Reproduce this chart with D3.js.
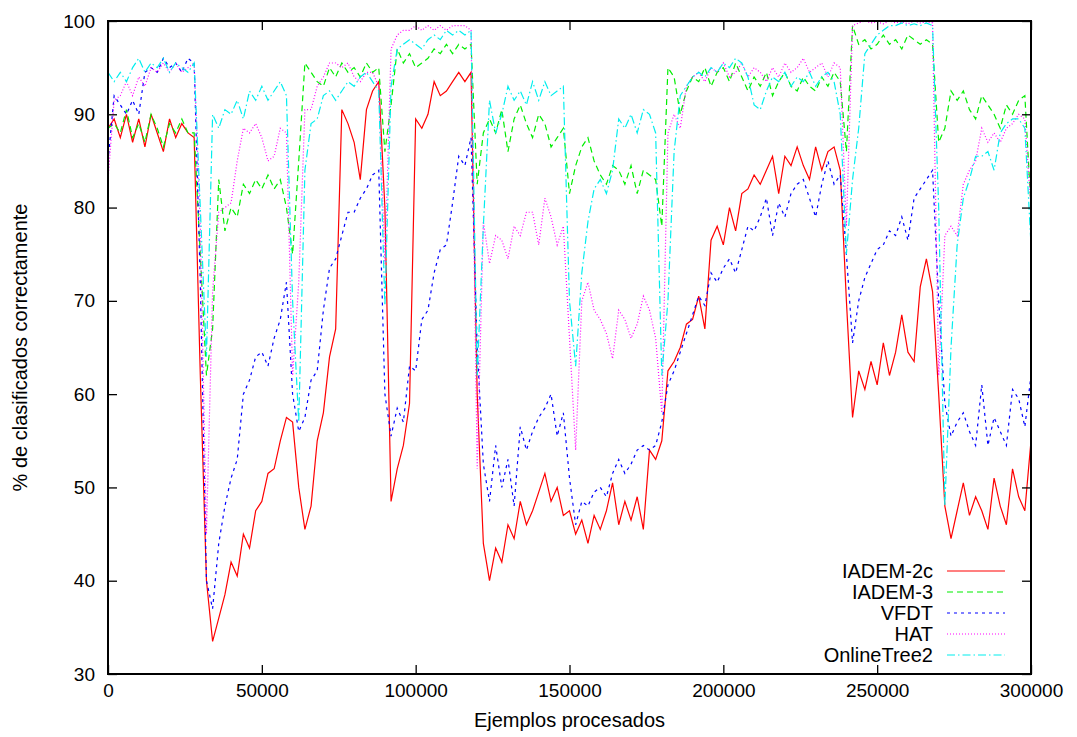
<!DOCTYPE html>
<html>
<head>
<meta charset="utf-8">
<script src="https://cdn.jsdelivr.net/npm/d3@7"></script>
<style>
  body { margin: 0; background: #fff; }
  svg text { font-family: "Liberation Sans", Arial, Helvetica, sans-serif; fill: #000; }
</style>
</head>
<body>
<svg id="chart" width="1077" height="737"></svg>
<script>
// one reading every 2000 examples, from 0 to 300000
const step = 2000;

const iadem2c = [88.5,89.5,87.5,90,87,89.5,86.5,90,88,86,89.5,87.5,89,88,87.5,62,40,33.5,36,38.5,
  42,40.5,45,43.5,47.5,48.5,51.5,52,55,57.5,57,50,45.5,48,55,58,64,67,90.5,89,
  87,83,90.5,92.5,93.5,80,48.5,52,54.5,59,89.5,88.5,90,93.5,92,92.5,93.5,94.5,93.5,94.5,
  60,44,40,43.5,42,46,44.5,48.5,46,47.5,49.5,51.5,48.5,50,47,47.5,45,46.5,44,47,
  45.5,47.5,50.5,46,48.5,46.5,49,45.5,54,53,55,62.5,63.5,65,67.5,68,70.5,67,76.5,78,
  76,80,77.5,81.5,82,83.5,82.5,84,85.5,81.5,85.5,84.5,86.5,84.5,83,86.5,84,86,86.5,84,
  70,57.5,62.5,60.5,63.5,61,65.5,62,64.5,68.5,64.5,63.5,71.5,74.5,71,60,48,44.5,47.5,50.5,
  47,49,47.5,45.5,51,48,46,52,49,47.5,55];

const iadem3 = [88.5,89,88,90.5,87.5,89,87,90,88.5,86.5,89,88,89.5,88,88,75,62,67,83,77.5,
  80,79,82.5,81.5,83,82,83.5,82,83,80,75,85,95.5,94.5,93.5,93,95,94,95.5,94.5,
  95,94,95.5,94.5,95,86,91,97,95.5,96.5,95,95.5,96,97,96.5,97.5,96.5,97.5,97,97.5,
  82.5,88,89.5,88,90.5,86,89.5,91,89,87.5,90,89,86.5,87.5,88.5,81.5,84.5,86.5,87.5,85,
  83.5,82.5,84.5,84,82.5,84.5,81.5,84,83.5,83,78,95,94,90,92.5,94,93.5,95,93,94.5,
  95,93.5,95.5,94,92.5,94,93,94.5,92,93.5,94.5,93,92.5,94,93,92.5,94,93,94.5,93.5,
  86,99.5,97.5,98,97,97.5,98.5,97.5,98,97,98.5,98,97.5,98,97.5,87,88.5,92.5,91.5,92.5,
  90.5,89.5,92,91,90,88.5,91,90,91.5,92,80];

const vfdt = [85,92,91,90,91.5,90,94.5,95,94.5,96,95,95.5,94.5,96,95.5,72,40,37,44,48,
  51,53,60,61.5,64,64.5,63,66,68,72,60,56,57.5,61.5,62.5,69,73.5,74.5,77,79.5,
  79.5,81,82,83.5,84,60,55.5,58.5,57,63,62.5,68,69,73,75.5,76,80.5,85.5,84.5,87.5,
  65,52.5,48.5,54.5,50,53,48,56.5,54,56,57.5,58.5,60,55.5,58,51,46,48.5,48,49.5,
  50,49,51.5,53,51.5,52.5,54,54.5,54,54.5,57,61,62.5,64.5,66.5,68.5,70.5,69.5,73,72,
  73.5,74.5,73,75.5,78,77.5,79,81,77,80.5,79,81.5,82.5,83,81,79,82.5,85,82.5,83.5,
  75,65.5,70,72.5,74,75.5,76,77.5,77,79,76.5,81,82,83,84,70,59,55.5,57,58,
  56,54.5,61,54.5,57.5,56,54.5,60.5,59.5,56.5,62];

const hat = [83,91.5,92,93.5,92,94,93,95,94.5,95.5,94.5,95.5,94.5,95,95.5,78,45,71,79.5,80,
  80.5,85,88.5,88,89,87.5,85,85.5,88.5,88,62,72,90.5,90.5,93,94,95.5,95.5,95,95.5,
  94,93.5,94.5,94.5,93,74,97,98.5,99,99,99.5,99,99.5,99,99.5,99,99.5,99.5,99.5,99,
  52,78.5,74,77,76.5,74.5,78,77,79.5,79.5,76,81,79,76,78,66,54,70,72,69,
  68,66.5,63.8,69,68,66,67.5,70.5,69,66,58,88,90,88.5,93,94,94.5,93.5,95,94.5,
  95.5,94,94.5,95.5,94,95,94.5,93.5,95,94,95.5,94.5,95,96,94.5,95,95.5,94,95.5,95,
  78,99.5,99.8,100,99.8,99.9,99.7,100,99.8,99.9,99.7,100,99.8,99.9,99.8,62,77,78,77,82.5,
  84,85,88.5,87,88,87,88.5,89,90,89.5,80];

const onlineTree2 = [94.5,93.5,94.5,93.5,95,96,94.5,95.5,95,96,94.5,95.5,95,94.5,95.5,80,64,90,88.5,90.5,
  90,91.5,89.5,92.5,91.5,93,91.5,92.5,93.5,92,70,57,84,89,89.5,92,92.5,91.5,92.5,93.5,
  93,94,94.5,93.5,92.5,69.5,93,97,97.5,98,97.5,97,98,98.5,98,99,98.5,99,98.5,99,
  62,78,91.5,88,90,93,91.5,92.5,91,93.5,91.5,93.5,92,92.5,93,70,63,73,78.5,82,
  83,81.5,84,89.5,88.5,90,88,90.5,90,88,62,70,86,92,93,94,94.5,94,95,94.5,
  95.5,95,96,95.5,94,91,90.5,92.5,94,93.5,94.5,93,94,93.5,94.5,93,94,94.5,93.5,90,
  75,83,88.5,96.5,97.5,98.5,99,99.5,99.5,99.8,99.5,99.7,99.5,99.8,99.5,80,48,65,76,81,
  83,85.5,85.5,86,84,88,89,89.5,89.5,88.5,76];

const seriesNames = ["IADEM-2c", "IADEM-3", "VFDT", "HAT", "OnlineTree2"];
const seriesValues = [iadem2c, iadem3, vfdt, hat, onlineTree2];
const seriesColors = ["#ff0000", "#00ee00", "#0000ff", "#ff00ff", "#00eeee"];
const seriesDash = [null, "6,4", "3,4", "1,2", "8,3,1.5,3"];

const xTicks = [0, 50000, 100000, 150000, 200000, 250000, 300000];
const yTicks = [30, 40, 50, 60, 70, 80, 90, 100];

const svg = d3.select("#chart");
const mLeft = 108, mRight = 1031, mTop = 21, mBottom = 674;

const x = d3.scaleLinear().domain([0, 300000]).range([mLeft, mRight]);
const y = d3.scaleLinear().domain([30, 100]).range([mBottom, mTop]);

const line = d3.line()
  .x((d, i) => x(i * step))
  .y(d => y(d));

const plot = svg.append("g");
plot.append("clipPath").attr("id", "clip")
  .append("rect").attr("x", mLeft).attr("y", mTop - 1)
  .attr("width", mRight - mLeft).attr("height", mBottom - mTop + 1);

const lines = plot.append("g").attr("clip-path", "url(#clip)");
seriesValues.forEach((vals, k) => {
  lines.append("path")
    .datum(vals)
    .attr("d", line)
    .attr("fill", "none")
    .attr("stroke", seriesColors[k])
    .attr("stroke-width", 1.2)
    .attr("stroke-dasharray", seriesDash[k]);
});

// axes, ticks pointing inwards on all four sides
const fontSize = 19;
const axB = svg.append("g").attr("transform", `translate(0,${mBottom})`)
  .call(d3.axisBottom(x).tickValues(xTicks).tickSize(-9).tickPadding(10).tickFormat(d3.format("d")));
const axT = svg.append("g").attr("transform", `translate(0,${mTop})`)
  .call(d3.axisTop(x).tickValues(xTicks).tickSize(-9).tickFormat(""));
const axL = svg.append("g").attr("transform", `translate(${mLeft},0)`)
  .call(d3.axisLeft(y).tickValues(yTicks).tickSize(-9).tickPadding(13));
const axR = svg.append("g").attr("transform", `translate(${mRight},0)`)
  .call(d3.axisRight(y).tickValues(yTicks).tickSize(-9).tickFormat(""));

[axB, axT, axL, axR].forEach(a => {
  a.select(".domain").remove();
  a.selectAll("line").attr("stroke", "#000").attr("stroke-width", 1.3);
  a.selectAll("text").attr("font-size", fontSize)
    .style("font-family", '"Liberation Sans", Arial, sans-serif');
});

svg.append("rect")
  .attr("x", mLeft).attr("y", mTop)
  .attr("width", mRight - mLeft).attr("height", mBottom - mTop)
  .attr("fill", "none").attr("stroke", "#000").attr("stroke-width", 2);

// axis titles
svg.append("text")
  .attr("x", (mLeft + mRight) / 2).attr("y", 727)
  .attr("text-anchor", "middle").attr("font-size", fontSize + 1)
  .text("Ejemplos procesados");

svg.append("text")
  .attr("transform", `translate(27,${(mTop + mBottom) / 2}) rotate(-90)`)
  .attr("text-anchor", "middle").attr("font-size", fontSize + 1)
  .text("% de clasificados correctamente");

// legend
const legend = svg.append("g");
seriesNames.forEach((name, k) => {
  const ly = 571 + k * 21;
  legend.append("text")
    .attr("x", 933).attr("y", ly).attr("dy", "0.35em")
    .attr("text-anchor", "end").attr("font-size", fontSize + 1)
    .text(name);
  legend.append("line")
    .attr("x1", 947).attr("x2", 1005).attr("y1", ly).attr("y2", ly)
    .attr("stroke", seriesColors[k]).attr("stroke-width", 1.2)
    .attr("stroke-dasharray", seriesDash[k]);
});
</script>
</body>
</html>
